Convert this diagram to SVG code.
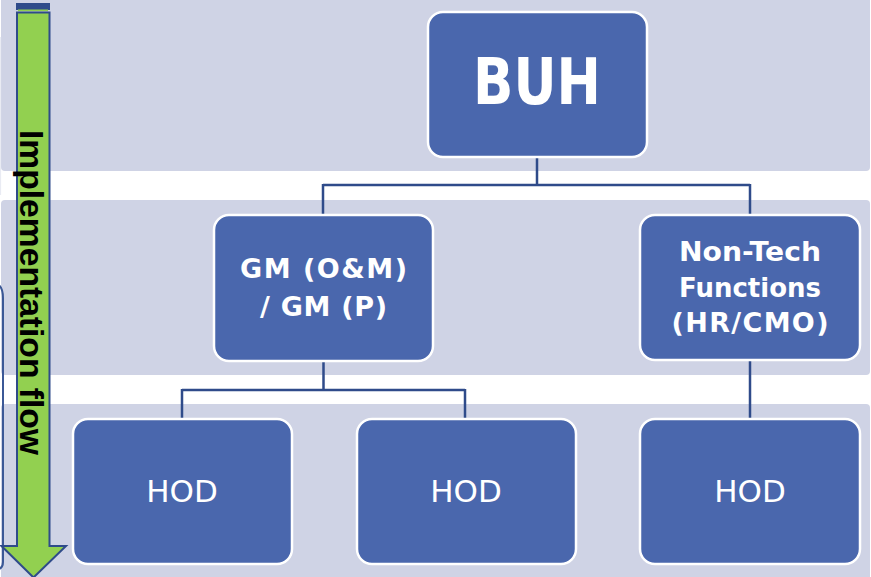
<svg xmlns="http://www.w3.org/2000/svg" width="871" height="577" viewBox="0 0 871 577">
  <defs>
    <style>
      .band { fill: #CFD3E5; }
      .node rect { fill: #4A67AD; stroke: #FFFFFF; stroke-width: 2.5; }
      .lbl { fill: #FFFFFF; font-family: "DejaVu Sans", "Liberation Sans", sans-serif; text-anchor: middle; }
      .b { font-weight: bold; }
      .conn { fill: none; stroke: #2F4B8A; stroke-width: 2.5; }
    </style>
  </defs>
  <rect width="871" height="577" fill="#FFFFFF"/>
  <g id="bands">
    <rect class="band" x="1" y="-6" width="869" height="177" rx="4"/>
    <rect class="band" x="1" y="200" width="869" height="175" rx="4"/>
    <rect class="band" x="1" y="404" width="869" height="180" rx="4"/>
    <line x1="0.5" y1="37" x2="0.5" y2="195" stroke="#E9EBF3" stroke-width="1.2"/>
    <path d="M -6,283 Q 3,284 3,298 L 3,562 Q 3,570 -6,570" fill="none" stroke="#3B5896" stroke-width="2"/>
  </g>
  <g id="arrow">
    <rect x="16" y="3" width="34" height="7" fill="#2F4B8A"/>
    <rect x="18" y="9.5" width="30" height="1.8" fill="#92D050"/>
    <polygon points="17,12.5 49.5,12.5 49.5,546 66,546 33.5,577.5 1.5,546 17,546" fill="#92D050" stroke="#2F4B8A" stroke-width="2"/>
    <text transform="translate(20,130) rotate(90)" font-family="Liberation Sans, Arial, sans-serif" font-weight="bold" font-size="34" fill="#000000" textLength="325" lengthAdjust="spacingAndGlyphs">Implementation flow</text>
  </g>
  <g id="connectors">
    <path class="conn" d="M 537,157 V 185 M 323,185 H 750 M 323,184 V 215 M 750,184 V 215"/>
    <path class="conn" d="M 323.5,361 V 390 M 182,390 H 465 M 182,389 V 419 M 465,389 V 419"/>
    <path class="conn" d="M 750,360 V 419"/>
  </g>
  <g id="node-buh" class="node">
    <rect x="428" y="12" width="219" height="145" rx="15"/>
    <text class="lbl b" x="537" y="104" font-size="64" textLength="128" lengthAdjust="spacingAndGlyphs">BUH</text>
  </g>
  <g id="node-gm" class="node">
    <rect x="214" y="215" width="219" height="146" rx="15"/>
    <text class="lbl b" x="323.5" y="278" font-size="27" textLength="167" lengthAdjust="spacing">GM (O&amp;M)</text>
    <text class="lbl b" x="323.5" y="316" font-size="27" textLength="127" lengthAdjust="spacing">/ GM (P)</text>
  </g>
  <g id="node-nontech" class="node">
    <rect x="640" y="215" width="220" height="145" rx="15"/>
    <text class="lbl b" x="750" y="261" font-size="27" textLength="142" lengthAdjust="spacingAndGlyphs">Non-Tech</text>
    <text class="lbl b" x="750" y="297" font-size="27" textLength="142" lengthAdjust="spacingAndGlyphs">Functions</text>
    <text class="lbl b" x="750" y="332" font-size="27" textLength="157" lengthAdjust="spacing">(HR/CMO)</text>
  </g>
  <g id="node-hod1" class="node">
    <rect x="73" y="419" width="219" height="145" rx="15"/>
    <text class="lbl" x="182" y="502" font-size="31">HOD</text>
  </g>
  <g id="node-hod2" class="node">
    <rect x="357" y="419" width="219" height="145" rx="15"/>
    <text class="lbl" x="466" y="502" font-size="31">HOD</text>
  </g>
  <g id="node-hod3" class="node">
    <rect x="640" y="419" width="220" height="145" rx="15"/>
    <text class="lbl" x="750" y="502" font-size="31">HOD</text>
  </g>
</svg>
